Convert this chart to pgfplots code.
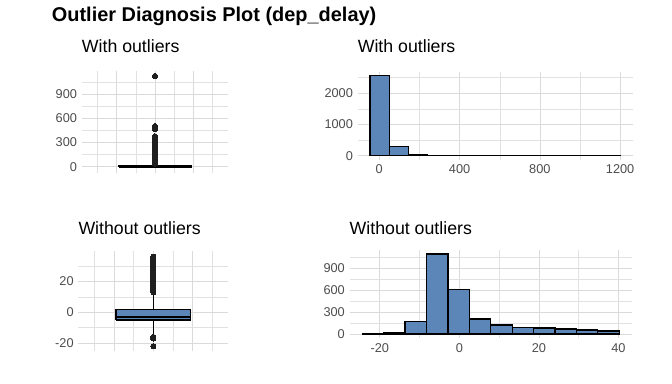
\documentclass[border=0pt]{standalone}
\usepackage{fontspec}
\setmainfont{Liberation Sans}
\usepackage{pgfplots}
\pgfplotsset{compat=1.18}
\definecolor{barblue}{RGB}{92,134,184}
\definecolor{gridc}{RGB}{218,218,218}
\definecolor{tickc}{RGB}{77,77,77}
\pgfplotsset{
  panel/.style={
    scale only axis,
    anchor=south west,
    axis line style={draw=none},
    tick style={draw=none},
    grid=both,
    major grid style={draw=gridc, line width=0.55bp},
    minor grid style={draw=gridc!80!white, line width=0.4bp},
    tick label style={font=\fontsize{12.8}{14}\selectfont, text=tickc},
    /pgf/number format/assume math mode=true,
    /pgf/number format/1000 sep={},
    yticklabel style={anchor=east, inner sep=0pt, xshift=-4.5bp},
    xticklabel style={anchor=north, inner sep=0pt, yshift=-5bp},
    title style={anchor=base west, at={(0,1)}, inner sep=0pt, font=\fontsize{17.8}{20}\selectfont},
  },
  outl/.style={only marks, mark=*, mark size=2.6bp, mark options={fill=black!88, draw=black!88, line width=0pt}},
}
\begin{document}
\begin{tikzpicture}
\node[anchor=base west, inner sep=0pt, font=\bfseries\fontsize{20}{24}\selectfont] at (51.7bp,362.5bp) {Outlier Diagnosis Plot (dep\_delay)};

% Top-left: boxplot with outliers
\begin{axis}[panel, at={(81.7bp,210.9bp)}, width=146.6bp, height=102bp,
  xmin=-0.382, xmax=0.382, ymin=-80, ymax=1190,
  xtick={-0.2,0,0.2}, minor xtick={-0.3,-0.1,0.1,0.3}, xticklabels={},
  ytick={0,300,600,900}, minor ytick={150,450,750,1050},
  title={With outliers}, title style={yshift=12.6bp}]
% whiskers
\addplot[black, line width=0.8bp] coordinates {(0,-22) (0,-5)};
\addplot[black, line width=0.8bp] coordinates {(0,11) (0,35)};
% box (Q1=-5, Q3=11)
\addplot[fill=barblue, draw=black, line width=1.2bp] coordinates {(-0.189,-5) (0.189,-5) (0.189,11) (-0.189,11) (-0.189,-5)};
% median
\addplot[black, line width=2.2bp] coordinates {(-0.189,-2) (0.189,-2)};
% outliers
\addplot[outl] table[row sep=\\] {x y\\ 0 37\\ 0 40\\ 0 44\\ 0 48\\ 0 52\\ 0 56\\ 0 60\\ 0 64\\ 0 68\\ 0 72\\ 0 76\\ 0 80\\ 0 85\\ 0 90\\ 0 95\\ 0 100\\ 0 105\\ 0 110\\ 0 115\\ 0 120\\ 0 126\\ 0 132\\ 0 138\\ 0 144\\ 0 150\\ 0 156\\ 0 162\\ 0 168\\ 0 175\\ 0 182\\ 0 189\\ 0 196\\ 0 203\\ 0 210\\ 0 218\\ 0 226\\ 0 234\\ 0 242\\ 0 250\\ 0 258\\ 0 266\\ 0 274\\ 0 282\\ 0 290\\ 0 298\\ 0 306\\ 0 314\\ 0 322\\ 0 330\\ 0 338\\ 0 346\\ 0 354\\ 0 362\\ 0 370\\ 0 378\\ 0 470\\ 0 490\\ 0 505\\ 0 1130\\};
\end{axis}

% Top-right: histogram with outliers
\begin{axis}[panel, at={(357.6bp,224.3bp)}, width=275bp, height=88bp,
  xmin=-108, xmax=1262, ymin=-128, ymax=2692,
  xtick={0,400,800,1200}, minor xtick={200,600,1000},
  ytick={0,1000,2000}, minor ytick={500,1500,2500},
  title={With outliers}, title style={yshift=13.2bp}]
\addplot[ybar interval, fill=barblue, draw=black, line width=1.2bp] coordinates {
(-46,2564) (49.85,288) (145.7,40) (241.55,10) (337.4,3) (433.25,3) (529.1,0) (624.95,0)
(720.8,0) (816.65,0) (912.5,0) (1008.35,0) (1104.2,1) (1200,0)};
\end{axis}

% Bottom-left: boxplot without outliers
\begin{axis}[panel, at={(78.3bp,33.3bp)}, width=150bp, height=100bp,
  xmin=-0.381, xmax=0.381, ymin=-24.95, ymax=39.95,
  xtick={-0.2,0,0.2}, minor xtick={-0.3,-0.1,0.1,0.3}, xticklabels={},
  ytick={-20,0,20}, minor ytick={-10,10,30},
  title={Without outliers}, title style={yshift=10.2bp}]
\addplot[black, line width=0.8bp] coordinates {(0,-15) (0,-5)};
\addplot[black, line width=0.8bp] coordinates {(0,2) (0,12)};
\addplot[fill=barblue, draw=black, line width=1.2bp] coordinates {(-0.189,-5) (0.189,-5) (0.189,2) (-0.189,2) (-0.189,-5)};
\addplot[black, line width=2.2bp] coordinates {(-0.189,-3) (0.189,-3)};
\addplot[outl] table[row sep=\\] {x y\\ 0 13\\ 0 14\\ 0 15\\ 0 16\\ 0 17\\ 0 18\\ 0 19\\ 0 20\\ 0 21\\ 0 22\\ 0 23\\ 0 24\\ 0 25\\ 0 26\\ 0 27\\ 0 28\\ 0 29\\ 0 30\\ 0 31\\ 0 32\\ 0 33\\ 0 34\\ 0 35\\ 0 36\\ 0 -16\\ 0 -17\\ 0 -22\\};
\end{axis}

% Bottom-right: histogram without outliers
\begin{axis}[panel, at={(349.5bp,46bp)}, width=282.5bp, height=88bp,
  xmin=-27.6, xmax=43.4, ymin=-55, ymax=1151,
  xtick={-20,0,20,40}, minor xtick={-10,10,30},
  ytick={0,300,600,900}, minor ytick={150,450,750,1050},
  title={Without outliers}, title style={yshift=9.4bp}]
\addplot[ybar interval, fill=barblue, draw=black, line width=1.2bp] coordinates {
(-24.4,3) (-19.02,18) (-13.63,174) (-8.25,1096) (-2.87,612) (2.52,205) (7.90,123)
(13.28,91) (18.66,82) (24.05,68) (29.43,55) (34.82,41) (40.2,0)};
\end{axis}

\pgfresetboundingbox
\path[use as bounding box] (0,0) rectangle (672bp,384bp);
\end{tikzpicture}
\end{document}
